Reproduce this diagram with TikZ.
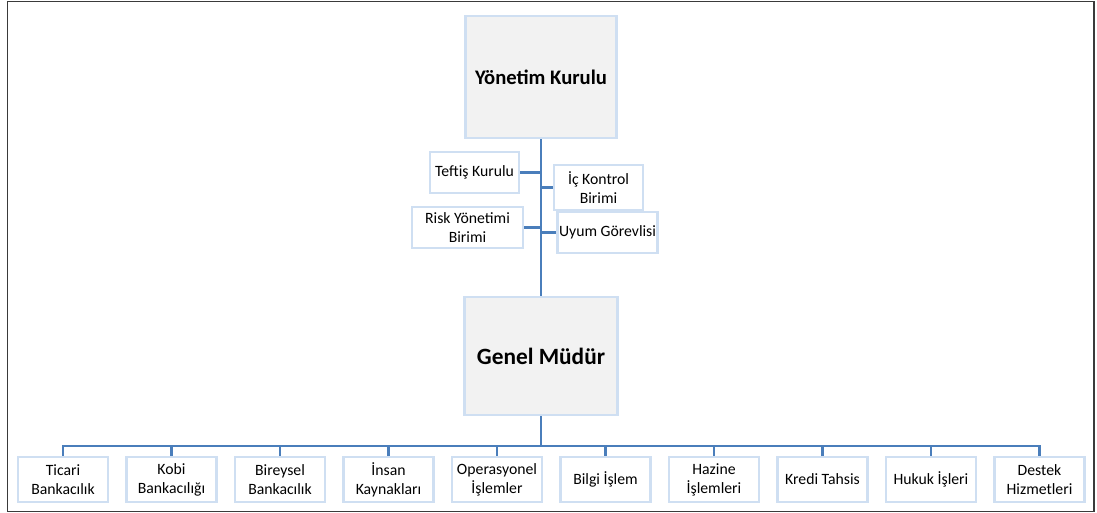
\documentclass[tikz,border=0pt]{standalone}
\usepackage{fontspec}
\setmainfont{Carlito}
\begin{document}
\definecolor{boxfill}{HTML}{F2F2F2}
\definecolor{boxedge}{HTML}{CFDFF2}
\definecolor{linkblue}{HTML}{4A7EBB}
\definecolor{framegray}{HTML}{3A3A3A}
\begin{tikzpicture}[x=0.75pt,y=-0.75pt,
  headbox/.style={draw=boxedge, line width=2.2pt, fill=boxfill, inner sep=0pt,
    font=\bfseries, align=center},
  unitbox/.style={draw=boxedge, line width=2pt, fill=white, inner sep=0pt,
    minimum width=67.5pt, minimum height=33.75pt,
    font=\fontsize{11.8}{14.3}\selectfont, align=center},
  link/.style={draw=linkblue, line width=2.2pt}]
\useasboundingbox (0,0) rectangle (1097,513);
\draw[framegray, line width=1.2pt] (7.5,1.5) rectangle (1094,511.5);

% board and general manager
\node[headbox, minimum width=113.25pt, minimum height=91.5pt,
  font=\fontsize{15.5}{18}\selectfont\bfseries] (yk) at (541,77) {Yönetim Kurulu};
\node[headbox, minimum width=114.75pt, minimum height=88.5pt,
  font=\fontsize{17.5}{20}\selectfont\bfseries] (gm) at (541,356) {Genel Müdür};

% units reporting to the board
\node[unitbox, minimum width=66.75pt, minimum height=30.75pt] (tk) at (474.5,172.5) {Teftiş Kurulu};
\node[unitbox, minimum width=66.75pt, minimum height=33.75pt] (ik) at (598.5,187.5) {İç Kontrol\\Birimi};
\node[unitbox, minimum width=83.25pt, minimum height=30.75pt] (ry) at (467.5,227.5) {Risk Yönetimi\\Birimi};
\node[unitbox, minimum width=75pt, minimum height=30.75pt] (ug) at (607.5,232.5) {Uyum Görevlisi};

\draw[link] (yk.south) -- (gm.north);
\draw[link] (tk.east) -- (tk.east -| yk.south);
\draw[link] (ik.west) -- (ik.west -| yk.south);
\draw[link] (ry.east) -- (ry.east -| yk.south);
\draw[link] (ug.west) -- (ug.west -| yk.south);

% departments under the general manager
\node[unitbox] (d1) at (63,479.5) {Ticari\\Bankacılık};
\node[unitbox] (d2) at (171.5,479.5) {Kobi\\Bankacılığı};
\node[unitbox] (d3) at (280,479.5) {Bireysel\\Bankacılık};
\node[unitbox] (d4) at (388.5,479.5) {İnsan\\Kaynakları};
\node[unitbox] (d5) at (497,479.5) {Operasyonel\\İşlemler};
\node[unitbox] (d6) at (605.5,479.5) {Bilgi İşlem};
\node[unitbox] (d7) at (714,479.5) {Hazine\\İşlemleri};
\node[unitbox] (d8) at (822.5,479.5) {Kredi Tahsis};
\node[unitbox] (d9) at (931,479.5) {Hukuk İşleri};
\node[unitbox] (d10) at (1039.5,479.5) {Destek\\Hizmetleri};

\coordinate (bus) at (541,446);
\draw[link] (gm.south) -- (bus);
\draw[link, line cap=rect] (d1.north |- bus) -- (d10.north |- bus);
\foreach \d in {d1,d2,d3,d4,d5,d6,d7,d8,d9,d10}
  \draw[link] (\d.north |- bus) -- (\d.north);
\end{tikzpicture}
\end{document}
